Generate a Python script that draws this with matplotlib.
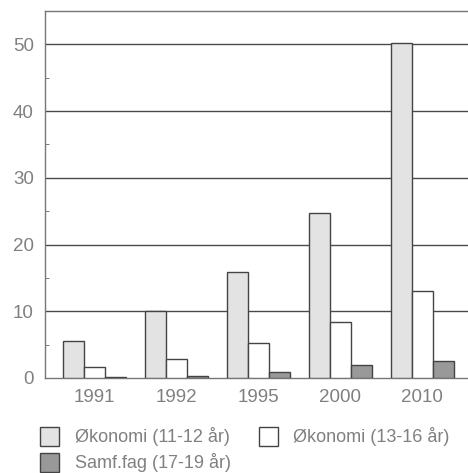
import matplotlib
matplotlib.use("Agg")
import matplotlib.pyplot as plt
from matplotlib.patches import Rectangle
import numpy as np

years = ["1991", "1992", "1995", "2000", "2010"]
okonomi_11_12 = [5.6, 10.0, 15.9, 24.7, 50.2]
okonomi_13_16 = [1.6, 2.8, 5.3, 8.4, 13.1]
samfag_17_19 = [0.1, 0.3, 0.85, 2.0, 2.6]
series_labels = ["Økonomi (11-12 år)", "Økonomi (13-16 år)", "Samf.fag (17-19 år)"]
colors = ["#e3e3e3", "#ffffff", "#999999"]

plt.rcParams['font.family'] = ['Liberation Sans', 'DejaVu Sans']
W, H = 468, 473
fig = plt.figure(figsize=(W/100, H/100), dpi=100)
ax = fig.add_axes([45/W, 1-378/H, 426.4/W, (378-11)/H])

x = np.arange(len(years))
w = 0.256
edge = "#444444"
for i, (vals, c) in enumerate(zip([okonomi_11_12, okonomi_13_16, samfag_17_19], colors)):
    ax.bar(x + (i-1)*w, vals, width=w, color=c, edgecolor=edge, linewidth=1.0, zorder=3)

ax.set_xlim(-0.6, 4.6)
ax.set_ylim(0, 55)
ax.set_yticks([0, 10, 20, 30, 40, 50])
ax.set_yticks([5, 15, 25, 35, 45], minor=True)
ax.set_xticks(x)
ax.set_xticklabels(years)
for yv in [10, 20, 30, 40, 50]:
    ax.axhline(yv, color="#4a4a4a", linewidth=1.0, zorder=1)
tc = "#808080"
ax.tick_params(axis='y', which='major', length=0, pad=8, labelsize=13.5, labelcolor=tc)
ax.tick_params(axis='y', which='minor', length=3, direction='in', color="#666666")
ax.tick_params(axis='x', length=0, pad=8, labelsize=13.5, labelcolor=tc)
for s in ['top', 'left', 'bottom']:
    ax.spines[s].set_color("#777777")
    ax.spines[s].set_linewidth(1.0)
ax.spines['right'].set_visible(False)

# legend (manual layout)
entries = [(40, 427, 75), (259, 427, 293), (40, 453, 75)]
for (sx, sy, tx), lab, c in zip(entries, series_labels, colors):
    fig.patches.append(Rectangle((sx/W, 1-(sy+19)/H), 19/W, 19/H, transform=fig.transFigure,
                                 facecolor=c, edgecolor=edge, linewidth=1.0))
    fig.text(tx/W, 1-(sy+9.5)/H, lab, fontsize=13, color=tc, va='center', ha='left')

fig.savefig("out.png", dpi=100)
